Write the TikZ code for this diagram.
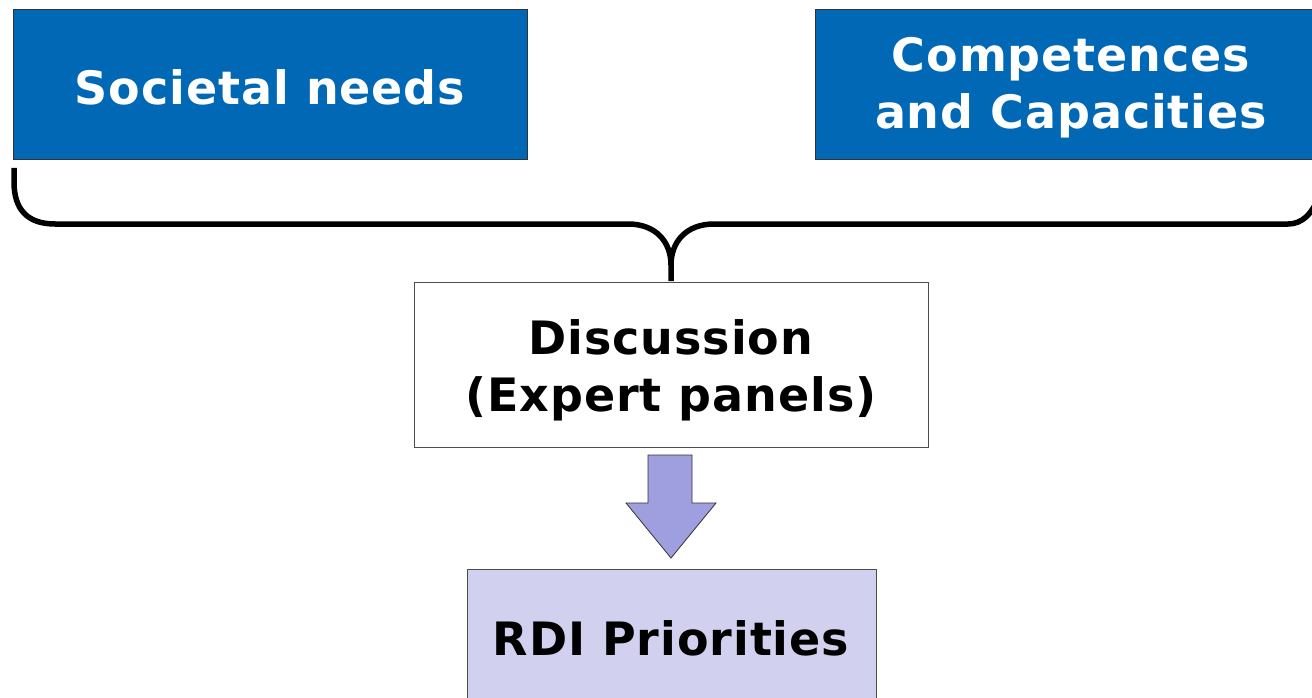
\documentclass[tikz,border=0pt]{standalone}
\usepackage{fontspec}
\setmainfont{DejaVu Sans}[LetterSpace=2]
\definecolor{boxblue}{HTML}{0068B4}
\definecolor{arrowfill}{HTML}{9F9FDF}
\definecolor{rdifill}{HTML}{D1D1EF}
\begin{document}
\begin{tikzpicture}[x=1pt,y=-1pt,
  bluebox/.style={draw=black!80,line width=1pt,fill=boxblue,text=white,font=\fontsize{46}{57}\selectfont\bfseries,align=center,inner sep=0pt},
  whitebox/.style={draw=black!70,line width=1pt,fill=white,text=black,font=\fontsize{46}{57}\selectfont\bfseries,align=center,inner sep=0pt},
  rdibox/.style={draw=black!70,line width=1pt,fill=rdifill,text=black,font=\fontsize{46}{57}\selectfont\bfseries,align=center,inner sep=0pt},
  brace/.style={line width=5.5pt,draw=black}]
\useasboundingbox (0,0) rectangle (1312,698);
\clip (0,0) rectangle (1312,698);
\fill[white] (0,0) rectangle (1312,698);
% boxes
\draw[bluebox] (13,10) rectangle (527,160);
\node[bluebox,draw=none,fill=none] (soc) at (270,87) {Societal needs};
\draw[bluebox] (815,10) rectangle (1330,160);
\node[bluebox,draw=none,fill=none] (comp) at (1071,88) {Competences\\and Capacities};
\draw[whitebox] (414,282) rectangle (928,447);
\node[whitebox,draw=none,fill=none] (disc) at (671,370) {Discussion\\(Expert panels)};
\draw[rdibox] (467,569) rectangle (876,710);
\node[rdibox,draw=none,fill=none] (rdi) at (671,638) {RDI Priorities};
% brace
\coordinate (bl) at (14,168);
\coordinate (bm) at (671,281);
\coordinate (br) at (1318,198);
\draw[brace] (bl) -- (14,182) .. controls (14,210) and (28,224) .. (55,224) -- (628,224)
  .. controls (656,224) and (671,242) .. (671,265) -- (bm);
\draw[brace] (671,265) .. controls (671,242) and (686,224) .. (714,224) -- (1288,224)
  .. controls (1302,224) and (1312,214) .. (br);
% arrow
\draw[fill=arrowfill,draw=black!80,line width=0.8pt] (648,455) -- (692,455) -- (692,503) -- (716,503) -- (671,558) -- (626,503) -- (648,503) -- cycle;
\end{tikzpicture}
\end{document}
